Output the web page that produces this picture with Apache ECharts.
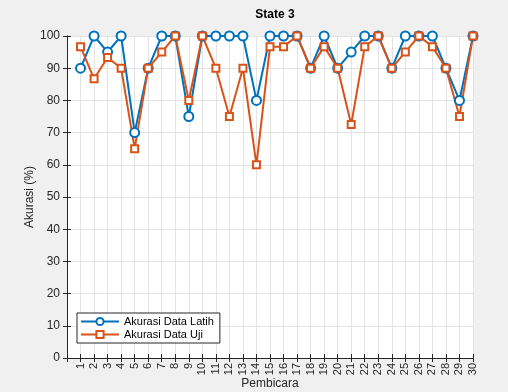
<!DOCTYPE html>
<html><head><meta charset="utf-8">
<script src="https://cdn.jsdelivr.net/npm/echarts@6/dist/echarts.min.js"></script>
<style>html,body{margin:0;padding:0;background:#f0f0f0}#c{width:508px;height:392px}</style>
</head><body><div id="c"></div>
<script>
const categories = [1,2,3,4,5,6,7,8,9,10,11,12,13,14,15,16,17,18,19,20,21,22,23,24,25,26,27,28,29,30];
const latih = [90,100,95,100,70,90,100,100,75,100,100,100,100,80,100,100,100,90,100,90,95,100,100,90,100,100,100,90,80,100];
const uji = [96.7,86.7,93.3,90,65,90,95,100,80,100,90,75,90,60,96.7,96.7,100,90,96.7,90,72.5,96.7,100,90,95,100,96.7,90,75,100];
const yTicks = [0,10,20,30,40,50,60,70,80,90,100];
const xTitle = 'Pembicara';
const yTitle = 'Akurasi (%)';

const font = 'Liberation Sans, Arial, Helvetica, sans-serif';
const chart = echarts.init(document.getElementById('c'));
const axisLine = {show:true, lineStyle:{color:'#262626', width:1}};
chart.setOption({
  backgroundColor:'#f0f0f0',
  animation:false,
  title:{text:'State 3', left:270, textAlign:'center', top:4,
    textStyle:{fontFamily:font, fontSize:12, fontWeight:'bold', color:'#000'}},
  graphic:[
    {type:'text', x:270, y:384, style:{text:xTitle, font:'12px '+font, fill:'#262626', align:'center', verticalAlign:'middle'}},
    {type:'text', x:30, y:197, rotation:Math.PI/2, style:{text:yTitle, font:'12px '+font, fill:'#262626', align:'center', verticalAlign:'middle'}}
  ],
  grid:{left:67, right:35, top:36, bottom:34, show:true, backgroundColor:'#ffffff', borderWidth:0, outerBoundsMode:'none', containLabel:false},
  legend:{orient:'vertical', left:77, top:313, itemWidth:38, itemHeight:9, itemGap:2, textStyle:{fontFamily:font, fontSize:11, color:'#000'},
    backgroundColor:'#ffffff', borderColor:'#262626', borderWidth:1, padding:[3,6,3,3],
    data:['Akurasi Data Latih','Akurasi Data Uji']},
  xAxis:[{type:'value', min:0, max:30, interval:1,
    axisLine:axisLine, axisTick:{show:true, inside:true, length:4, lineStyle:{color:'#262626'}},
    axisLabel:{rotate:90, fontFamily:font, fontSize:11, color:'#262626', margin:5,
      formatter:v=> (v>=1 && v<=30) ? String(categories[v-1]) : ''},
    splitLine:{show:true, lineStyle:{color:'#e3e3e3', width:1}}},
    {type:'value', position:'top', min:0, max:30, interval:1, axisLine:axisLine,
    axisTick:{show:true, inside:true, length:4, lineStyle:{color:'#262626'}}, axisLabel:{show:false}, splitLine:{show:false}}],
  yAxis:[{type:'value', min:0, max:100, interval:10,
    axisLine:axisLine, axisTick:{show:true, inside:true, length:4, lineStyle:{color:'#262626'}},
    axisLabel:{fontFamily:font, fontSize:12, color:'#262626', margin:7,
      formatter:v=> yTicks.includes(v) ? String(v) : ''},
    splitLine:{show:true, lineStyle:{color:'#e3e3e3', width:1}}},
    {type:'value', position:'right', min:0, max:100, interval:10, axisLine:axisLine,
    axisTick:{show:true, inside:true, length:4, lineStyle:{color:'#262626'}}, axisLabel:{show:false}, splitLine:{show:false}}],
  series:[
    {name:'Akurasi Data Latih', type:'line', data:categories.map((c,i)=>[c, latih[i]]),
     symbol:'circle', symbolSize:9, color:'#0072BD',
     lineStyle:{width:2, color:'#0072BD'}, itemStyle:{color:'#ffffff', borderColor:'#0072BD', borderWidth:2}},
    {name:'Akurasi Data Uji', type:'line', data:categories.map((c,i)=>[c, uji[i]]),
     symbol:'rect', symbolSize:7, color:'#D95319',
     lineStyle:{width:2, color:'#D95319'}, itemStyle:{color:'#ffffff', borderColor:'#D95319', borderWidth:2}}
  ]
});
</script></body></html>
